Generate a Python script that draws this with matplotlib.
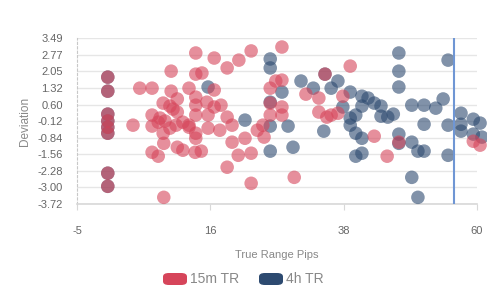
import matplotlib
matplotlib.use("Agg")
import matplotlib.pyplot as plt
from matplotlib.patches import FancyBboxPatch

plt.rcParams['font.family'] = ['Liberation Sans', 'DejaVu Sans']

series_names = ["15m TR", "4h TR"]
series_colors = ["#d6455a", "#2d4a70"]

red_x = [0, 0, 0, 0, 0, 0, 0, 0, 4.1, 5.2, 7.2, 10.3, 10.3, 9.0, 10.1, 11.3, 10.6, 7.2, 8.2, 7.2,
         9.3, 10.1, 9.0, 11.1, 9.1, 11.3, 7.2, 8.2, 9.1, 12.2, 14.2, 15.2, 14.3, 17.3, 19.4, 21.3,
         23.3, 28.3, 14.3, 15.3, 13.2, 17.3, 14.3, 14.3, 16.1, 17.3, 18.4, 11.3, 13.2, 14.3, 16.3,
         19.4, 20.2, 16.3, 18.2, 14.3, 14.3, 13.2, 20.2, 22.3, 24.3, 25.2, 25.4, 21.2, 23.3, 19.4,
         23.3, 30.3, 26.4, 27.3, 28.3, 32.2, 34.3, 34.3, 35.6, 26.4, 28.3, 26.4, 28.3, 35.3, 39.4,
         38.2, 36.3, 37.4, 43.3, 45.4, 47.3, 59.4, 60.5, 12.2, 8.5]
red_y = [1.80, 1.19, 0.19, -0.11, -0.38, -0.64, -2.38, -2.95, -0.29, 1.32, 1.32, 2.06, 1.19, 0.67,
         0.54, 0.85, 0.41, 0.15, -0.16, -0.33, -0.11, -0.42, -0.64, -0.29, -1.08, -1.25, -1.47,
         -1.64, -3.43, -1.38, -1.47, -1.42, 2.85, 2.63, 2.20, 2.54, 2.94, 3.11, 1.93, 1.98, 1.32,
         1.24, 0.93, 0.58, 0.71, 0.50, 0.58, 0.28, -0.29, 0.15, 0.15, 0.06, -0.29, -0.42, -0.51,
         -0.64, -0.86, -0.38, -1.03, -0.86, -0.51, -0.29, -0.81, -1.60, -1.51, -2.12, -2.82, -2.56,
         1.32, 1.63, 1.67, 1.06, 0.89, 0.28, 0.06, 0.67, 0.50, 0.15, 0.15, 1.93, 2.28, 0.97, 0.15,
         0.23, -0.77, -1.64, -1.03, -0.99, -1.16, -0.16, 0.02]

blue_x = [0, 0, 0, 0, 0, 0, 0, 0, 16.3, 22.3, 26.4, 26.4, 26.4, 26.4, 29.3, 26.4, 30.1, 28.3, 31.4,
          33.4, 35.3, 35.1, 36.3, 37.4, 39.4, 41.3, 42.3, 41.3, 38.2, 39.4, 40.3, 39.4, 43.3, 44.4,
          44.4, 45.5, 46.4, 40.3, 41.3, 40.3, 41.3, 47.3, 47.3, 47.3, 55.3, 47.3, 47.3, 49.4, 51.4,
          53.3, 54.5, 51.4, 49.4, 50.4, 51.4, 55.3, 55.3, 49.4, 50.4, 57.4, 57.4, 57.4, 59.4, 60.5,
          59.4, 60.8]
blue_y = [1.80, 1.19, 0.19, -0.11, -0.38, -0.64, -2.38, -2.95, 1.37, -0.07, 2.59, 2.20, 0.71, -0.33,
          -0.33, -1.42, -1.25, 1.15, 1.63, 1.32, 1.93, -0.55, 1.32, 1.63, 1.15, 0.97, 0.89, 0.54,
          0.50, 0.02, 0.15, -0.29, 0.67, 0.54, 0.10, 0.06, 0.19, -0.64, -0.86, -1.64, -1.51, 2.85,
          2.06, 1.37, 2.54, -0.68, -1.08, 0.58, 0.58, 0.45, 0.85, -0.25, -1.03, -1.42, -1.42, -0.29,
          -1.60, -2.56, -3.43, 0.23, -0.25, -0.55, -0.03, -0.20, -0.68, -0.81]

x_ticks = [-5, 16.667, 38.333, 60]
x_tick_labels = ["-5", "16", "38", "60"]
y_tick_labels = ["-3.72", "-3.00", "-2.28", "-1.56", "-0.84", "-0.12", "0.60", "1.32", "2.05", "2.77", "3.49"]
y_min, y_max = -3.72, 3.49
x_min, x_max = -5, 60
ref_line_x = 56.2

fig = plt.figure(figsize=(4.87, 3.02), dpi=100)
ax = fig.add_axes([77/487, 1-204/302, 400/487, (204-38.3)/302])
ax.set_xlim(x_min, x_max)
ax.set_ylim(y_min, y_max)

step = (y_max - y_min) / 10
yt = [y_min + i*step for i in range(11)]
ax.set_yticks(yt)
ax.set_yticklabels(y_tick_labels)
ax.set_xticks(x_ticks)
ax.set_xticklabels(x_tick_labels)
ax.grid(axis='y', color='#e6e6e6', lw=1)
ax.set_axisbelow(True)
for s in ['top', 'right']:
    ax.spines[s].set_visible(False)
ax.spines['bottom'].set_color('#d8d8d8')
ax.spines['bottom'].set_linewidth(1.2)
ax.spines['left'].set_color('#c8c8c8')
ax.spines['left'].set_linestyle((0, (2, 2)))
ax.tick_params(axis='y', length=0, pad=10, labelsize=8, labelcolor='#666666')
ax.tick_params(axis='x', length=4, color='#d8d8d8', pad=12, labelsize=8, labelcolor='#666666')

ax.scatter(blue_x, blue_y, s=95, color=series_colors[1], alpha=0.6, edgecolors='none', clip_on=False, zorder=3)
ax.scatter(red_x, red_y, s=95, color=series_colors[0], alpha=0.6, edgecolors='none', clip_on=False, zorder=3)
ax.axvline(ref_line_x, color='#6f96d4', lw=1.5, zorder=4)

ax.set_xlabel("True Range Pips", color='#888888', fontsize=8, labelpad=10)
ax.set_ylabel("Deviation", color='#888888', fontsize=8.5, labelpad=5)

# legend
lx = [163, 259]
for i, name in enumerate(series_names):
    x0 = lx[i] / 487
    y0 = 1 - 285 / 302
    p = FancyBboxPatch((x0, y0), 24/487, 12/302, boxstyle="round,pad=0,rounding_size=0.012",
                       transform=fig.transFigure, facecolor=series_colors[i], edgecolor='none',
                       mutation_aspect=302/487*1.6)
    fig.patches.append(p)
    fig.text((lx[i] + 27) / 487, 1 - 279 / 302, name, fontsize=10, color='#888888', va='center', ha='left')

fig.savefig("out.png", dpi=100)
